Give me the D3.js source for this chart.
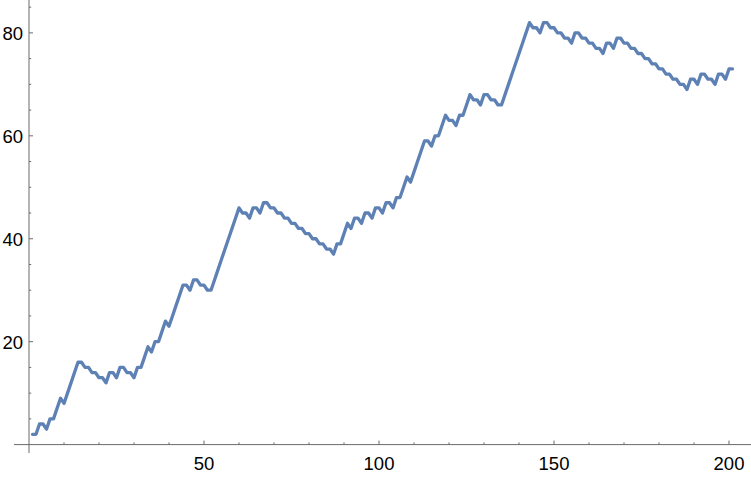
<!DOCTYPE html>
<html>
<head>
<meta charset="utf-8">
<script src="https://cdn.jsdelivr.net/npm/d3@7"></script>
<style>
  html, body { margin: 0; padding: 0; background: #fff; }
  svg { display: block; }
</style>
</head>
<body>
<svg id="chart" width="751" height="477"></svg>
<script>
// ---- data ----
const xStart = 1;
const values = [
  2, 2, 4, 4, 3, 5, 5, 7, 9, 8,
  10, 12, 14, 16, 16, 15, 15, 14, 14, 13,
  13, 12, 14, 14, 13, 15, 15, 14, 14, 13,
  15, 15, 17, 19, 18, 20, 20, 22, 24, 23,
  25, 27, 29, 31, 31, 30, 32, 32, 31, 31,
  30, 30, 32, 34, 36, 38, 40, 42, 44, 46,
  45, 45, 44, 46, 46, 45, 47, 47, 46, 46,
  45, 45, 44, 44, 43, 43, 42, 42, 41, 41,
  40, 40, 39, 39, 38, 38, 37, 39, 39, 41,
  43, 42, 44, 44, 43, 45, 45, 44, 46, 46,
  45, 47, 47, 46, 48, 48, 50, 52, 51, 53,
  55, 57, 59, 59, 58, 60, 60, 62, 64, 63,
  63, 62, 64, 64, 66, 68, 67, 67, 66, 68,
  68, 67, 67, 66, 66, 68, 70, 72, 74, 76,
  78, 80, 82, 81, 81, 80, 82, 82, 81, 81,
  80, 80, 79, 79, 78, 80, 80, 79, 79, 78,
  78, 77, 77, 76, 78, 78, 77, 79, 79, 78,
  78, 77, 77, 76, 76, 75, 75, 74, 74, 73,
  73, 72, 72, 71, 71, 70, 70, 69, 71, 71,
  70, 72, 72, 71, 71, 70, 72, 72, 71, 73,
  73
];
const xMajorTicks = [50, 100, 150, 200];
const xMinorTicks = [10, 20, 30, 40, 60, 70, 80, 90, 110, 120, 130, 140, 160, 170, 180, 190];
const yMajorTicks = [20, 40, 60, 80];
const yMinorTicks = [5, 10, 15, 25, 30, 35, 45, 50, 55, 65, 70, 75, 85];

// ---- layout ----
const svg = d3.select("#chart");
const x = d3.scaleLinear().domain([0, 200]).range([29, 729]);
const y = d3.scaleLinear().domain([0, 80]).range([444.6, 32.9]);

const axisColor = "#6b6b6b";
const font = "'Liberation Sans', Arial, sans-serif";

// axes lines
svg.append("line")
  .attr("x1", 14).attr("x2", 751)
  .attr("y1", y(0)).attr("y2", y(0))
  .attr("stroke", axisColor).attr("stroke-width", 1);
svg.append("line")
  .attr("x1", x(0)).attr("x2", x(0))
  .attr("y1", 0).attr("y2", 453)
  .attr("stroke", axisColor).attr("stroke-width", 1);

// x ticks
svg.selectAll(".xmaj").data(xMajorTicks).enter().append("line")
  .attr("x1", d => x(d)).attr("x2", d => x(d))
  .attr("y1", y(0)).attr("y2", y(0) - 4)
  .attr("stroke", axisColor).attr("stroke-width", 1);
svg.selectAll(".xmin").data(xMinorTicks).enter().append("line")
  .attr("x1", d => x(d)).attr("x2", d => x(d))
  .attr("y1", y(0)).attr("y2", y(0) - 2.2)
  .attr("stroke", axisColor).attr("stroke-width", 1);
svg.selectAll(".xlab").data(xMajorTicks).enter().append("text")
  .attr("x", d => x(d)).attr("y", 469.5)
  .attr("text-anchor", "middle")
  .attr("font-family", font).attr("font-size", 18.5)
  .attr("fill", "#000")
  .text(d => d);

// y ticks
svg.selectAll(".ymaj").data(yMajorTicks).enter().append("line")
  .attr("x1", x(0)).attr("x2", x(0) + 4)
  .attr("y1", d => y(d)).attr("y2", d => y(d))
  .attr("stroke", axisColor).attr("stroke-width", 1);
svg.selectAll(".ymin").data(yMinorTicks).enter().append("line")
  .attr("x1", x(0)).attr("x2", x(0) + 2.2)
  .attr("y1", d => y(d)).attr("y2", d => y(d))
  .attr("stroke", axisColor).attr("stroke-width", 1);
svg.selectAll(".ylab").data(yMajorTicks).enter().append("text")
  .attr("x", 23).attr("y", d => y(d) + 7.5)
  .attr("text-anchor", "end")
  .attr("font-family", font).attr("font-size", 18.5)
  .attr("fill", "#000")
  .text(d => d);

// line
const line = d3.line()
  .x((d, i) => x(xStart + i))
  .y(d => y(d));
svg.append("path")
  .datum(values)
  .attr("d", line)
  .attr("fill", "none")
  .attr("stroke", "#5E81B5")
  .attr("stroke-width", 3.3)
  .attr("stroke-linejoin", "round")
  .attr("stroke-linecap", "round");
</script>
</body>
</html>
